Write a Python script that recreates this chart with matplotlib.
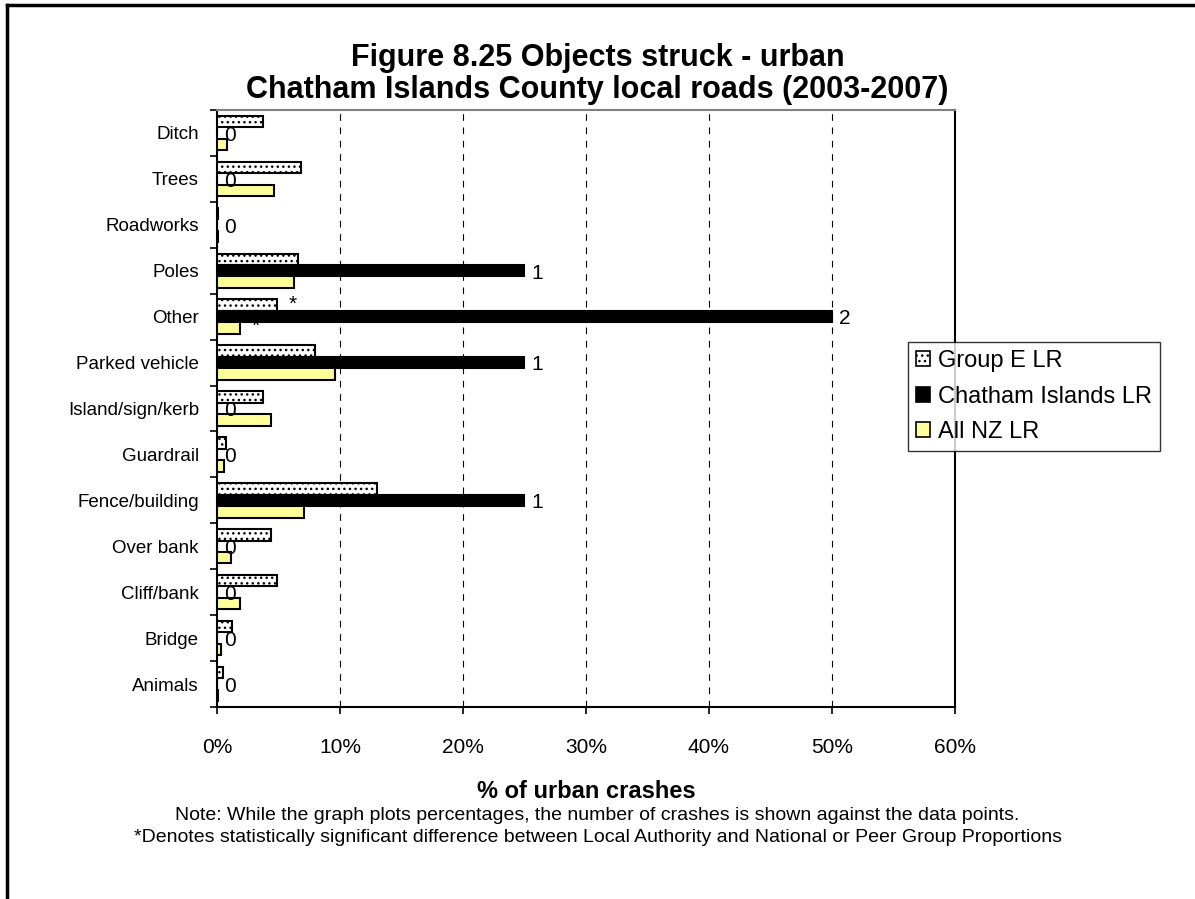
import numpy as np
import matplotlib.pyplot as plt
from matplotlib.lines import Line2D
from matplotlib.patches import Patch

# data
categories = ['Ditch', 'Trees', 'Roadworks', 'Poles', 'Other', 'Parked vehicle',
              'Island/sign/kerb', 'Guardrail', 'Fence/building', 'Over bank',
              'Cliff/bank', 'Bridge', 'Animals']
group_e = [3.7, 6.8, 0.1, 6.6, 4.9, 8.0, 3.7, 0.7, 13.0, 4.4, 4.9, 1.2, 0.5]
chatham = [0, 0, 0, 25, 50, 25, 0, 0, 25, 0, 0, 0, 0]
all_nz = [0.8, 4.6, 0.1, 6.3, 1.9, 9.6, 4.4, 0.6, 7.1, 1.1, 1.9, 0.3, 0.1]
chatham_counts = [0, 0, 0, 1, 2, 1, 0, 0, 1, 0, 0, 0, 0]
xticks = [0, 10, 20, 30, 40, 50, 60]

plt.rcParams['font.family'] = ['Liberation Sans', 'DejaVu Sans']
plt.rcParams['hatch.linewidth'] = 1.0

fig = plt.figure(figsize=(11.95, 8.99), dpi=100)
ax = fig.add_axes([0.1816, 0.2136, 0.799 - 0.1816, 0.8776 - 0.2136])

y = np.arange(len(categories))
h = 0.25
ax.barh(y - h, group_e, height=h, color='white', edgecolor='black',
        hatch='...', linewidth=1.5, zorder=3, label='Group E LR')
ax.barh(y, chatham, height=h, color='black', edgecolor='black',
        linewidth=1.5, zorder=3, label='Chatham Islands LR')
ax.barh(y + h, all_nz, height=h, color='#FFFF99', edgecolor='black',
        linewidth=1.5, zorder=3, label='All NZ LR')

# crash counts next to the Chatham bars
for yi, v, c in zip(y, chatham, chatham_counts):
    ax.text(v + 0.6, yi + 0.05, str(c), fontsize=15, va='center', ha='left', zorder=4)

# significance markers for "Other"
i_other = categories.index('Other')
ax.text(group_e[i_other] + 0.9, i_other - h - 0.02, '*', fontsize=15,
        ha='left', va='center', zorder=4)
ax.text(all_nz[i_other] + 0.9, i_other + 0.22, '*', fontsize=15,
        ha='left', va='center', zorder=2)

ax.set_xlim(0, 60)
ax.set_ylim(len(categories) - 0.5, -0.5)
ax.set_xticks(xticks)
ax.set_xticklabels([f'{t}%' for t in xticks], fontsize=15)
ax.set_yticks(y)
ax.set_yticklabels(categories, fontsize=13.5)
ax.set_yticks(np.arange(-0.5, len(categories)), minor=True)
ax.tick_params(axis='y', which='major', length=0, pad=13)
ax.tick_params(axis='y', which='minor', length=5, direction='out', width=1.2)
ax.tick_params(axis='x', which='major', length=5, direction='out', width=1.2, pad=17)

for t in xticks[1:-1]:
    ax.axvline(t, color='black', linestyle=(0, (6, 6)), linewidth=0.8, zorder=1)

ax.spines['top'].set_color('#808080')
ax.spines['top'].set_linewidth(1.5)
for s in ['left', 'right', 'bottom']:
    ax.spines[s].set_color('black')
    ax.spines[s].set_linewidth(1.5)

ax.set_xlabel('% of urban crashes', fontsize=17, fontweight='bold', labelpad=17)

handles = [Patch(facecolor='white', edgecolor='black', hatch='...', linewidth=1.2),
           Patch(facecolor='black', edgecolor='black', linewidth=1.2),
           Patch(facecolor='#FFFF99', edgecolor='black', linewidth=1.2)]
leg = fig.legend(handles, ['Group E LR', 'Chatham Islands LR', 'All NZ LR'],
                 loc='upper left', bbox_to_anchor=(908 / 1195, 1 - 342 / 899),
                 fontsize=17, frameon=True, fancybox=False, edgecolor='black',
                 handlelength=0.6, handleheight=0.6, handletextpad=0.3,
                 borderpad=0.35, labelspacing=0.57, borderaxespad=0)
leg.get_frame().set_linewidth(1.0)

fig.text(0.5, 1 - 58 / 899, 'Figure 8.25 Objects struck - urban', fontsize=22,
         fontweight='bold', ha='center', va='center')
fig.text(0.5, 1 - 90 / 899, 'Chatham Islands County local roads (2003-2007)', fontsize=22,
         fontweight='bold', ha='center', va='center')

fig.text(0.5, 1 - 816 / 899,
         'Note: While the graph plots percentages, the number of crashes is shown against the data points.',
         fontsize=14, ha='center', va='center')
fig.text(0.5, 1 - 838 / 899,
         '*Denotes statistically significant difference between Local Authority and National or Peer Group Proportions',
         fontsize=14, ha='center', va='center')

# outer border (top and left visible)
fig.add_artist(Line2D([7 / 1195, 7 / 1195], [0, 1 - 5 / 899], transform=fig.transFigure,
                      color='black', linewidth=2.5))
fig.add_artist(Line2D([7 / 1195, 1], [1 - 5 / 899, 1 - 5 / 899], transform=fig.transFigure,
                      color='black', linewidth=2.5))

fig.savefig('out.png', dpi=100)
